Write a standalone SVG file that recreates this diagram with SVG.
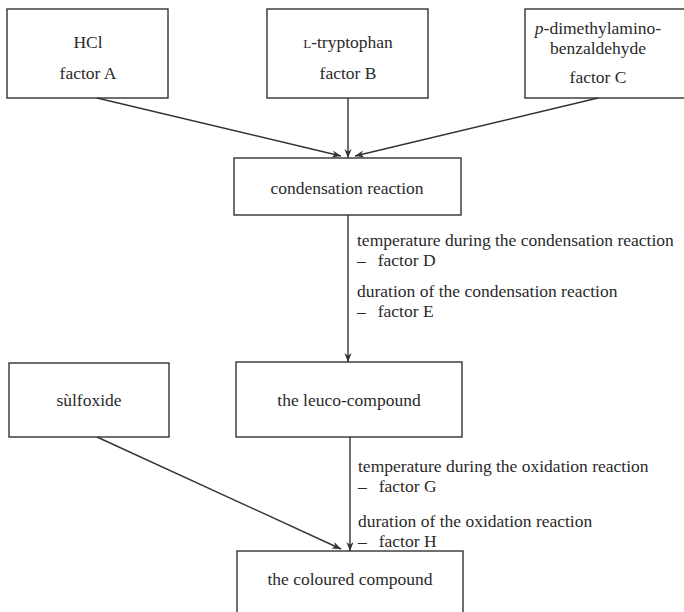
<svg xmlns="http://www.w3.org/2000/svg" width="684" height="612" viewBox="0 0 684 612">
<defs>
<style>
.box{fill:#fff;stroke:#333;stroke-width:1.4}
.t{font-family:"Liberation Serif","Times New Roman",serif;font-size:17.5px;fill:#2a2a2a}
.c{text-anchor:middle}
.ln{stroke:#333;stroke-width:1.4;fill:none}
</style>
<marker id="ah" viewBox="0 0 10 10" refX="10" refY="5" markerWidth="9" markerHeight="9" markerUnits="userSpaceOnUse" orient="auto">
<path d="M0,1 L10,5 L0,9 L3,5 Z" fill="#333"/>
</marker>
</defs>
<rect width="684" height="612" fill="#fff"/>
<g id="nodeA">
<rect class="box" x="7" y="9" width="161" height="89"/>
<text class="t c" x="88" y="48">HCl</text>
<text class="t c" x="88" y="79">factor A</text>
</g>
<g id="nodeB">
<rect class="box" x="267" y="9" width="161" height="89"/>
<text class="t c" x="348" y="48"><tspan font-size="13">L</tspan>-tryptophan</text>
<text class="t c" x="348" y="79">factor B</text>
</g>
<g id="nodeC">
<rect class="box" x="525" y="9" width="175" height="89"/>
<text class="t c" x="598" y="34"><tspan font-style="italic">p</tspan>-dimethylamino-</text>
<text class="t c" x="598" y="54">benzaldehyde</text>
<text class="t c" x="598" y="83">factor C</text>
</g>
<g id="nodeCond">
<rect class="box" x="234" y="158" width="227" height="57"/>
<text class="t c" x="347" y="194">condensation reaction</text>
</g>
<g id="nodeSulf">
<rect class="box" x="9" y="363" width="160" height="74"/>
<text class="t c" x="89" y="406">sùlfoxide</text>
</g>
<g id="nodeLeuco">
<rect class="box" x="236" y="362" width="226" height="75"/>
<text class="t c" x="349" y="406">the leuco-compound</text>
</g>
<g id="nodeCol">
<rect class="box" x="237" y="551" width="226" height="70"/>
<text class="t c" x="350" y="585">the coloured compound</text>
</g>
<g id="connectors">
<line class="ln" x1="97" y1="98" x2="341" y2="156" marker-end="url(#ah)"/>
<line class="ln" x1="348" y1="98" x2="348" y2="158" marker-end="url(#ah)"/>
<line class="ln" x1="598" y1="98" x2="355" y2="156" marker-end="url(#ah)"/>
<line class="ln" x1="348" y1="215" x2="348" y2="362" marker-end="url(#ah)"/>
<line class="ln" x1="97" y1="437" x2="341" y2="549" marker-end="url(#ah)"/>
<line class="ln" x1="350" y1="437" x2="350" y2="551" marker-end="url(#ah)"/>
</g>
<g id="labels">
<text class="t" x="357" y="246">temperature during the condensation reaction</text>
<text class="t" x="357" y="266">–<tspan dx="12">factor D</tspan></text>
<text class="t" x="357" y="297">duration of the condensation reaction</text>
<text class="t" x="357" y="317">–<tspan dx="12">factor E</tspan></text>
<text class="t" x="358" y="472">temperature during the oxidation reaction</text>
<text class="t" x="358" y="492">–<tspan dx="12">factor G</tspan></text>
<text class="t" x="358" y="527">duration of the oxidation reaction</text>
<text class="t" x="358" y="547">–<tspan dx="12">factor H</tspan></text>
</g>
</svg>
